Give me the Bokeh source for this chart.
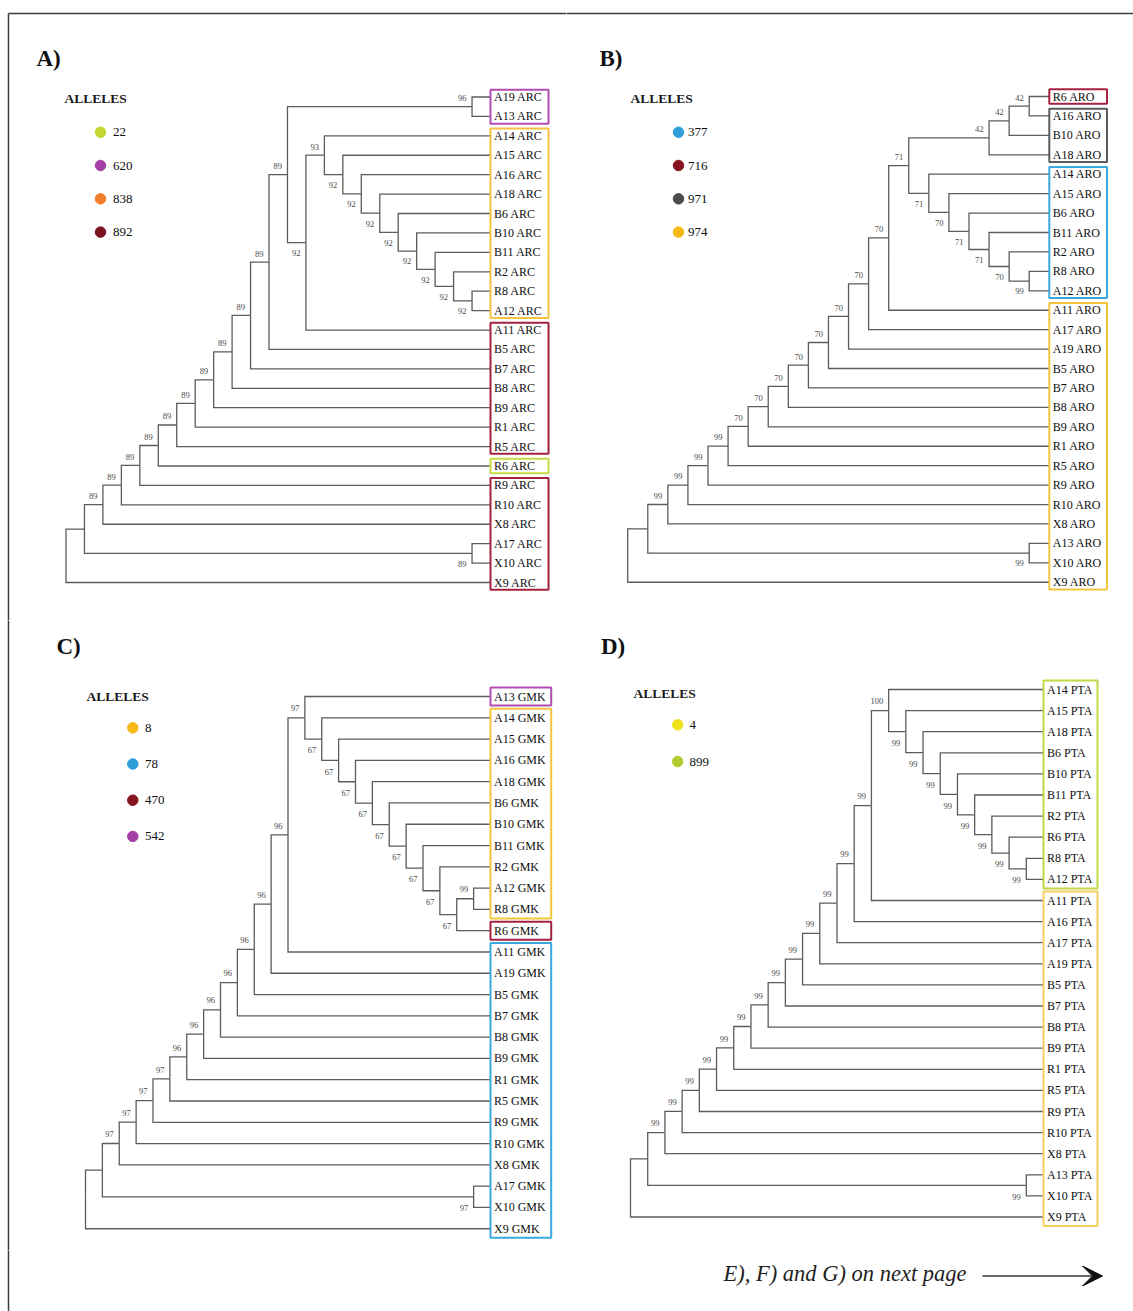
from bokeh.plotting import figure
from bokeh.models import Range1d, Arrow, VeeHead
from bokeh.layouts import column, row
from bokeh.core.properties import value
from bokeh.embed import file_html
from bokeh.resources import INLINE

# ===================== DATA =====================
# Each merge = (upper child, lower child, bootstrap). A child is a leaf label or the
# index of an earlier merge. The last merge is the root.
A_merges = [
    ("A19 ARC", "A13 ARC", 96),
    ("R8 ARC", "A12 ARC", 92),
    ("R2 ARC", 1, 92),
    ("B11 ARC", 2, 92),
    ("B10 ARC", 3, 92),
    ("B6 ARC", 4, 92),
    ("A18 ARC", 5, 92),
    ("A16 ARC", 6, 92),
    ("A15 ARC", 7, 92),
    ("A14 ARC", 8, 93),
    (9, "A11 ARC", 92),
    (0, 10, 89),
    (11, "B5 ARC", 89),
    (12, "B7 ARC", 89),
    (13, "B8 ARC", 89),
    (14, "B9 ARC", 89),
    (15, "R1 ARC", 89),
    (16, "R5 ARC", 89),
    (17, "R6 ARC", 89),
    (18, "R9 ARC", 89),
    (19, "R10 ARC", 89),
    (20, "X8 ARC", 89),
    ("A17 ARC", "X10 ARC", 89),
    (21, 22, None),
    (23, "X9 ARC", None),
]
A_alleles = ["22", "620", "838", "892"]
A_groups = [("A19 ARC", "A13 ARC", "620"), ("A14 ARC", "A12 ARC", "838"),
            ("A11 ARC", "R5 ARC", "892"), ("R6 ARC", "R6 ARC", "22"),
            ("R9 ARC", "X9 ARC", "892")]

B_merges = [
    ("R6 ARO", "A16 ARO", 42),
    (0, "B10 ARO", 42),
    (1, "A18 ARO", 42),
    ("R8 ARO", "A12 ARO", 99),
    ("R2 ARO", 3, 70),
    ("B11 ARO", 4, 71),
    ("B6 ARO", 5, 71),
    ("A15 ARO", 6, 70),
    ("A14 ARO", 7, 71),
    (2, 8, 71),
    (9, "A11 ARO", 70),
    (10, "A17 ARO", 70),
    (11, "A19 ARO", 70),
    (12, "B5 ARO", 70),
    (13, "B7 ARO", 70),
    (14, "B8 ARO", 70),
    (15, "B9 ARO", 70),
    (16, "R1 ARO", 70),
    (17, "R5 ARO", 99),
    (18, "R9 ARO", 99),
    (19, "R10 ARO", 99),
    (20, "X8 ARO", 99),
    ("A13 ARO", "X10 ARO", 99),
    (21, 22, None),
    (23, "X9 ARO", None),
]
B_alleles = ["377", "716", "971", "974"]
B_groups = [("R6 ARO", "R6 ARO", "716"), ("A16 ARO", "A18 ARO", "971"),
            ("A14 ARO", "A12 ARO", "377"), ("A11 ARO", "X9 ARO", "974")]

C_merges = [
    ("A12 GMK", "R8 GMK", 99),
    (0, "R6 GMK", 67),
    ("R2 GMK", 1, 67),
    ("B11 GMK", 2, 67),
    ("B10 GMK", 3, 67),
    ("B6 GMK", 4, 67),
    ("A18 GMK", 5, 67),
    ("A16 GMK", 6, 67),
    ("A15 GMK", 7, 67),
    ("A14 GMK", 8, 67),
    ("A13 GMK", 9, 97),
    (10, "A11 GMK", 96),
    (11, "A19 GMK", 96),
    (12, "B5 GMK", 96),
    (13, "B7 GMK", 96),
    (14, "B8 GMK", 96),
    (15, "B9 GMK", 96),
    (16, "R1 GMK", 96),
    (17, "R5 GMK", 97),
    (18, "R9 GMK", 97),
    (19, "R10 GMK", 97),
    (20, "X8 GMK", 97),
    ("A17 GMK", "X10 GMK", 97),
    (21, 22, None),
    (23, "X9 GMK", None),
]
C_alleles = ["8", "78", "470", "542"]
C_groups = [("A13 GMK", "A13 GMK", "542"), ("A14 GMK", "R8 GMK", "8"),
            ("R6 GMK", "R6 GMK", "470"), ("A11 GMK", "X9 GMK", "78")]

D_merges = [
    ("R8 PTA", "A12 PTA", 99),
    ("R6 PTA", 0, 99),
    ("R2 PTA", 1, 99),
    ("B11 PTA", 2, 99),
    ("B10 PTA", 3, 99),
    ("B6 PTA", 4, 99),
    ("A18 PTA", 5, 99),
    ("A15 PTA", 6, 99),
    ("A14 PTA", 7, 100),
    (8, "A11 PTA", 99),
    (9, "A16 PTA", 99),
    (10, "A17 PTA", 99),
    (11, "A19 PTA", 99),
    (12, "B5 PTA", 99),
    (13, "B7 PTA", 99),
    (14, "B8 PTA", 99),
    (15, "B9 PTA", 99),
    (16, "R1 PTA", 99),
    (17, "R5 PTA", 99),
    (18, "R9 PTA", 99),
    (19, "R10 PTA", 99),
    (20, "X8 PTA", 99),
    ("A13 PTA", "X10 PTA", 99),
    (21, 22, None),
    (23, "X9 PTA", None),
]
D_alleles = ["4", "899"]
D_groups = [("A14 PTA", "A12 PTA", "899"), ("A11 PTA", "X9 PTA", "4")]

FOOTER_TEXT = "E), F) and G) on next page"

# ===================== STYLE =====================
FONT = "Liberation Serif"
TREE_COLOR = "#5c5c5c"
TEXT_COLOR = "#0e0e0e"
BS_COLOR = "#4a4a4a"
FRAME_COLOR = "#3c3c3c"

DOT_COLORS = {
    "A": {"22": "#c3d62f", "620": "#a53ea6", "838": "#ef7d2d", "892": "#7b1220"},
    "B": {"377": "#2f9fda", "716": "#861420", "971": "#4b4b4b", "974": "#f7b916"},
    "C": {"8": "#f7b916", "78": "#2f9fda", "470": "#861420", "542": "#a53ea6"},
    "D": {"4": "#f0e21a", "899": "#b2cc30"},
}
BOX_COLORS = {
    "A": {"22": "#c8db45", "620": "#b24cb5", "838": "#f4c23e", "892": "#a4223f"},
    "B": {"377": "#3aa8df", "716": "#a4223f", "971": "#5a5a5a", "974": "#f4c53c"},
    "C": {"8": "#f4c53c", "78": "#3aa8df", "470": "#a4223f", "542": "#b24cb5"},
    "D": {"4": "#f4cf5e", "899": "#c2d846"},
}

FRAME_X, FRAME_Y = 8, 13

GEO = {
    "A": dict(left=0, top=0, w=566, h=620, root_px=65.5, tip_px=490, y0=96.5, dy=19.42,
              box_right=548, box_half=7.3, letter=(36, 58), title=(64, 97.5),
              dot_x=100, dot_y0=131.7, dot_gap=33.3, label_x=112.5, frame=("top", "left")),
    "B": dict(left=566, top=0, w=567, h=620, root_px=627.2, tip_px=1048.8, y0=96, dy=19.43,
              box_right=1106.5, box_half=7.3, letter=(599, 58), title=(630, 98),
              dot_x=678, dot_y0=131.7, dot_gap=33.3, label_x=687.5, frame=("top",)),
    "C": dict(left=0, top=620, w=566, h=630, root_px=85, tip_px=490, y0=696, dy=21.29,
              box_right=550.7, box_half=9, letter=(56, 646), title=(86, 696),
              dot_x=132.3, dot_y0=727.3, dot_gap=36.2, label_x=144.5, frame=("left",)),
    "D": dict(left=566, top=620, w=567, h=630, root_px=630, tip_px=1043, y0=689, dy=21.1,
              box_right=1097, box_half=9, letter=(600.5, 646), title=(633, 693),
              dot_x=677.2, dot_y0=724.3, dot_gap=36.7, label_x=689, frame=()),
}

PANELS = {
    "A": (A_merges, A_alleles, A_groups),
    "B": (B_merges, B_alleles, B_groups),
    "C": (C_merges, C_alleles, C_groups),
    "D": (D_merges, D_alleles, D_groups),
}


def tree_layout(merges):
    root = len(merges) - 1
    leaves = []

    def collect(c):
        if isinstance(c, str):
            leaves.append(c)
            return
        collect(merges[c][0])
        collect(merges[c][1])

    collect(root)
    row_of = {nm: i for i, nm in enumerate(leaves)}
    height, ypos, side = {}, {}, {}
    for a, b, _ in merges:
        if not isinstance(a, str):
            side[a] = "upper"
        if not isinstance(b, str):
            side[b] = "lower"

    def walk(c):
        if isinstance(c, str):
            return 0, row_of[c]
        a, b, _ = merges[c]
        ha, ya = walk(a)
        hb, yb = walk(b)
        height[c] = 1 + max(ha, hb)
        ypos[c] = (ya + yb) / 2.0
        return height[c], ypos[c]

    walk(root)
    return leaves, row_of, height, ypos, side, height[root]


def blank_figure(w, h, xr, yr):
    p = figure(width=w, height=h, x_range=xr, y_range=yr, output_backend="svg",
               toolbar_location=None, x_axis_location=None, y_axis_location=None,
               min_border=0, min_border_left=0, min_border_right=0,
               min_border_top=0, min_border_bottom=0)
    p.grid.visible = False
    p.outline_line_color = None
    p.background_fill_color = "white"
    p.border_fill_color = "white"
    return p


def make_panel(key):
    merges, alleles, groups = PANELS[key]
    g = GEO[key]
    leaves, row_of, height, ypos, side, H = tree_layout(merges)
    step = (g["tip_px"] - g["root_px"]) / H

    def X(px):
        return (px - g["root_px"]) / step

    def Y(py):
        return (py - g["y0"]) / g["dy"]

    xr = Range1d(X(g["left"]), X(g["left"] + g["w"]))
    yr = Range1d(Y(g["top"] + g["h"]), Y(g["top"]))
    p = blank_figure(g["w"], g["h"], xr, yr)

    def node_xy(c):
        if isinstance(c, str):
            return H, row_of[c]
        return H - height[c], ypos[c]

    # branches (elbows)
    xs, ys = [], []
    for i, (a, b, _) in enumerate(merges):
        xn, yn = node_xy(i)
        for c in (a, b):
            xc, yc = node_xy(c)
            xs.append([xn, xn, xc])
            ys.append([yn, yc, yc])
    p.multi_line(xs, ys, line_color=TREE_COLOR, line_width=1.3, line_join="miter")

    # bootstrap values
    bx, by, bt = [], [], []
    for i, (a, b, bs) in enumerate(merges):
        if bs is None:
            continue
        xn, yn = node_xy(i)
        off = -0.44 if side.get(i) == "upper" else 0.53
        bx.append(xn - 5.5 / step)
        by.append(yn + off)
        bt.append(str(bs))
    p.text(x=bx, y=by, text=bt, text_font=value(FONT), text_font_size="8.5px",
           text_align="right", text_baseline="middle", text_color=BS_COLOR)

    # leaf labels
    p.text(x=[H + 3.5 / step] * len(leaves), y=list(range(len(leaves))), text=leaves,
           text_font=value(FONT), text_font_size="12px", text_align="left",
           text_baseline="middle", text_color=TEXT_COLOR)

    # allele boxes
    half = g["box_half"] / g["dy"]
    p.quad(left=[H] * len(groups),
           right=[X(g["box_right"])] * len(groups),
           top=[row_of[f] - half for f, l, al in groups],
           bottom=[row_of[l] + half for f, l, al in groups],
           fill_color=None, line_width=2,
           line_color=[BOX_COLORS[key][al] for f, l, al in groups])

    # legend
    n = len(alleles)
    dy_list = [Y(g["dot_y0"] + k * g["dot_gap"]) for k in range(n)]
    p.scatter(x=[X(g["dot_x"])] * n, y=dy_list, size=10.5, marker="circle",
              fill_color=[DOT_COLORS[key][al] for al in alleles],
              line_color=[DOT_COLORS[key][al] for al in alleles])
    p.text(x=[X(g["label_x"])] * n, y=dy_list, text=alleles, text_font=value(FONT),
           text_font_size="13px", text_align="left", text_baseline="middle",
           text_color=TEXT_COLOR)
    p.text(x=[X(g["title"][0])], y=[Y(g["title"][1])], text=["ALLELES"],
           text_font=value(FONT), text_font_size="13.5px", text_font_style="bold",
           text_align="left", text_baseline="middle", text_color="#1a1a1a")

    # panel letter
    p.text(x=[X(g["letter"][0])], y=[Y(g["letter"][1])], text=[key + ")"],
           text_font=value(FONT), text_font_size="23px", text_font_style="bold",
           text_align="left", text_baseline="middle", text_color="#111111")

    # page frame (extended past the canvas edge so adjoining panels join cleanly)
    x0s, y0s, x1s, y1s = [], [], [], []
    if "top" in g["frame"]:
        x0s.append(X(max(FRAME_X, g["left"] - 4)))
        x1s.append(X(g["left"] + g["w"] + 4))
        y0s.append(Y(FRAME_Y))
        y1s.append(Y(FRAME_Y))
    if "left" in g["frame"]:
        x0s.append(X(FRAME_X))
        x1s.append(X(FRAME_X))
        y0s.append(Y(max(FRAME_Y, g["top"] - 4)))
        y1s.append(Y(g["top"] + g["h"] + 4))
    if x0s:
        p.segment(x0=x0s, y0=y0s, x1=x1s, y1=y1s, line_color=FRAME_COLOR, line_width=1.5)
    return p


pA = make_panel("A")
pB = make_panel("B")
pC = make_panel("C")
pD = make_panel("D")

# footer (page-pixel coordinates)
pF = blank_figure(1133, 61, Range1d(0, 1133), Range1d(1311, 1250))
pF.segment(x0=[FRAME_X], y0=[1246], x1=[FRAME_X], y1=[1315], line_color=FRAME_COLOR, line_width=1.5)
pF.text(x=[723], y=[1273], text=[FOOTER_TEXT], text_font=value(FONT), text_font_size="22.5px",
        text_font_style="italic", text_align="left", text_baseline="middle", text_color="#1e1e1e")
pF.add_layout(Arrow(end=VeeHead(size=20, fill_color="#111111", line_color="#111111"),
                    x_start=982, y_start=1275.5, x_end=1102, y_end=1275.5,
                    line_color="#333333", line_width=1.3))

layout = column(row(pA, pB), row(pC, pD), pF)

open("out.html", "w").write(file_html(layout, INLINE))
